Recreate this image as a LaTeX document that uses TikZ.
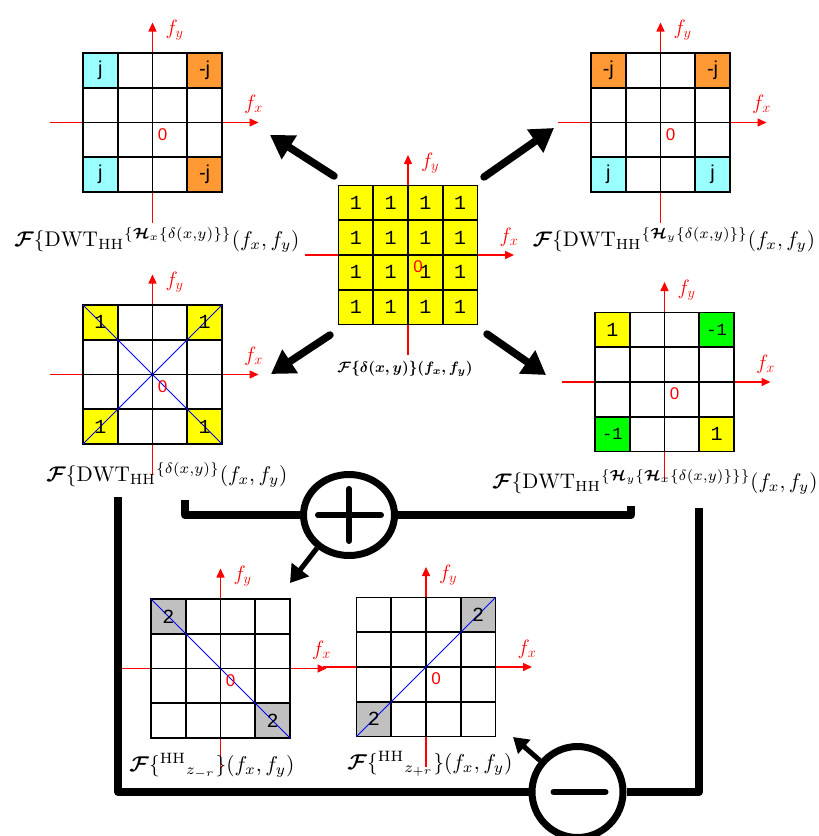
\documentclass[tikz,border=0pt]{standalone}
\usepackage{amsmath}
\usepackage{graphicx}
\usepackage{fontspec}
\usetikzlibrary{arrows.meta,calc,shapes.geometric}
\newfontfamily\sansf{Liberation Sans}
\newfontfamily\monof{Liberation Mono}
\definecolor{cyanc}{RGB}{153,255,255}
\definecolor{orangec}{RGB}{255,153,51}
\definecolor{yellowc}{RGB}{255,255,0}
\definecolor{greenc}{RGB}{0,255,0}
\definecolor{grayc}{RGB}{192,192,192}
\definecolor{axisred}{RGB}{255,0,0}
\newcommand\cs{34.75}
\newcommand\gridat[3]{%
  \draw[axisline] ({#2-103},#3) -- ({#2+106},#3);
  \draw[axisline] (#2,{#3+100}) -- (#2,{#3-100});
  \node[axlab] (#1-fx) at ({#2+101},{#3-18}) {$f_x$};
  \node[axlab] (#1-fy) at ({#2+22},{#3-92}) {$f_y$};
  \node[gridbox] (#1) at (#2,#3) {};
}
\newcommand\cellfill[4]{%
  \fill[#4] ($(#1.north west)+({(#3-1)*\cs},{(#2-1)*\cs})$) rectangle ++(\cs,\cs);}
\newcommand\gridlines[1]{%
  \foreach \k in {0,...,4}{%
    \draw[gridln] ($(#1.north west)+({\k*\cs},0)$) -- ++(0,139);
    \draw[gridln] ($(#1.north west)+(0,{\k*\cs})$) -- ++(139,0);
  }}
\newcommand\celltext[5]{%
  \node[#4] (#1-#2#3) at ($(#1.north west)+({(#3-0.5)*\cs},{(#2-0.5)*\cs})$) {#5};}
\newcommand\zerolab[1]{\node[zerotxt] (#1-zero) at ($(#1)+(10,12)$) {0};}
\newcommand\Fb{\boldsymbol{\mathcal F}}
\newcommand\Hb{\boldsymbol{\mathcal H}}
\tikzset{
  axisline/.style={draw=axisred, line width=1.5pt, -{Triangle[length=9pt,width=8pt]}},
  axlab/.style={text=axisred, font=\fontsize{21}{21}\selectfont, inner sep=0pt},
  gridbox/.style={fill=white, minimum size=139pt, inner sep=0pt, outer sep=0pt},
  gridln/.style={draw=black, line width=1.6pt, line cap=rect},
  blueln/.style={draw=blue, line width=1pt},
  numtxt/.style={font=\monof\fontsize{20}{20}\selectfont, inner sep=0pt},
  smalltxt/.style={font=\monof\fontsize{17}{17}\selectfont, inner sep=0pt},
  jtxt/.style={font=\sansf\fontsize{20}{20}\selectfont, inner sep=0pt},
  zerotxt/.style={text=axisred, font=\sansf\fontsize{17}{17}\selectfont, inner sep=0pt},
  lab/.style={inner sep=0pt},
  bigarrow/.style={line width=7.5pt, line cap=round, -{Triangle[length=23pt,width=27pt]}},
  flow/.style={line width=8pt, line join=round},
  sumring/.style={draw, line width=7pt, inner sep=0pt},
  signln/.style={line width=6pt, line cap=round},
  midarrow/.style={line width=5pt, -{Triangle[length=17pt,width=21pt]}},
}
\begin{document}
\begin{tikzpicture}[x=1pt,y=-1pt]
\clip (0,0) rectangle (819,836);
\fill[white] (0,0) rectangle (819,836);

% ---------- top-left grid
\gridat{tl}{152.5}{122.5}
\cellfill{tl}{1}{1}{cyanc}\cellfill{tl}{1}{4}{orangec}
\cellfill{tl}{4}{1}{cyanc}\cellfill{tl}{4}{4}{orangec}
\gridlines{tl}
\celltext{tl}{1}{1}{jtxt}{j}\celltext{tl}{1}{4}{jtxt}{-j}
\celltext{tl}{4}{1}{jtxt}{j}\celltext{tl}{4}{4}{jtxt}{-j}
\zerolab{tl}
\node[lab] (lab-tl) at (157,240) {\resizebox{285pt}{!}{$\Fb\{\mathrm{DWT}_{\mathrm{HH}}{}^{\{\Hb_x\{\delta(x,y)\}\}}(f_x,f_y)$}};

% ---------- top-right grid
\gridat{tr}{660.5}{122.5}
\cellfill{tr}{1}{1}{orangec}\cellfill{tr}{1}{4}{orangec}
\cellfill{tr}{4}{1}{cyanc}\cellfill{tr}{4}{4}{cyanc}
\gridlines{tr}
\celltext{tr}{1}{1}{jtxt}{-j}\celltext{tr}{1}{4}{jtxt}{-j}
\celltext{tr}{4}{1}{jtxt}{j}\celltext{tr}{4}{4}{jtxt}{j}
\zerolab{tr}
\node[lab] (lab-tr) at (674,240) {\resizebox{282pt}{!}{$\Fb\{\mathrm{DWT}_{\mathrm{HH}}{}^{\{\Hb_y\{\delta(x,y)\}\}}(f_x,f_y)$}};

% ---------- centre grid
\gridat{c}{408}{255}
\foreach \r in {1,...,4}{\foreach \q in {1,...,4}{\cellfill{c}{\r}{\q}{yellowc}}}
\gridlines{c}
\foreach \r in {1,...,4}{\foreach \q in {1,...,4}{\celltext{c}{\r}{\q}{numtxt}{1}}}
\zerolab{c}
\node[lab] (lab-c) at (405,369) {\resizebox{135pt}{!}{$\boldsymbol{\mathcal F\{\delta(x,y)\}(f_x,f_y)}$}};

% ---------- middle-left grid
\gridat{ml}{152.5}{374.5}
\cellfill{ml}{1}{1}{yellowc}\cellfill{ml}{1}{4}{yellowc}
\cellfill{ml}{4}{1}{yellowc}\cellfill{ml}{4}{4}{yellowc}
\gridlines{ml}
\draw[blueln] (ml.north west) -- (ml.south east);
\draw[blueln] (ml.north east) -- (ml.south west);
\celltext{ml}{1}{1}{numtxt}{1}\celltext{ml}{1}{4}{numtxt}{1}
\celltext{ml}{4}{1}{numtxt}{1}\celltext{ml}{4}{4}{numtxt}{1}
\zerolab{ml}
\node[lab] (lab-ml) at (167,475) {\resizebox{241pt}{!}{$\Fb\{\mathrm{DWT}_{\mathrm{HH}}{}^{\{\delta(x,y)\}}(f_x,f_y)$}};

% ---------- middle-right grid
\gridat{mr}{664.5}{382}
\cellfill{mr}{1}{1}{yellowc}\cellfill{mr}{1}{4}{greenc}
\cellfill{mr}{4}{1}{greenc}\cellfill{mr}{4}{4}{yellowc}
\gridlines{mr}
\celltext{mr}{1}{1}{numtxt}{1}\celltext{mr}{1}{4}{smalltxt}{-1}
\celltext{mr}{4}{1}{smalltxt}{-1}\celltext{mr}{4}{4}{numtxt}{1}
\zerolab{mr}
\node[lab] (lab-mr) at (655,482) {\resizebox{325pt}{!}{$\Fb\{\mathrm{DWT}_{\mathrm{HH}}{}^{\{\Hb_y\{\Hb_x\{\delta(x,y)\}\}\}}(f_x,f_y)$}};

% ---------- bottom-left grid
\gridat{bl}{220.5}{668.5}
\cellfill{bl}{1}{1}{grayc}\cellfill{bl}{4}{4}{grayc}
\gridlines{bl}
\draw[blueln] (bl.north west) -- (bl.south east);
\celltext{bl}{1}{1}{numtxt}{2}\celltext{bl}{4}{4}{numtxt}{2}
\zerolab{bl}
\node[lab] (lab-bl) at (212,766) {\resizebox{165pt}{!}{$\Fb\{{}^{\mathrm{HH}}{}_{z_{-r}}\}(f_x,f_y)$}};

% ---------- bottom-right grid
\gridat{br}{426}{667}
\cellfill{br}{1}{4}{grayc}\cellfill{br}{4}{1}{grayc}
\gridlines{br}
\draw[blueln] (br.south west) -- (br.north east);
\celltext{br}{1}{4}{numtxt}{2}\celltext{br}{4}{1}{numtxt}{2}
\zerolab{br}
\node[lab] (lab-br) at (430,764) {\resizebox{165pt}{!}{$\Fb\{{}^{\mathrm{HH}}{}_{z_{+r}}\}(f_x,f_y)$}};

% ---------- thick arrows from the centre grid
\coordinate (a-tl-s) at (334,176); \coordinate (a-tl-e) at (270,135);
\coordinate (a-tr-s) at (484,177); \coordinate (a-tr-e) at (554,128);
\coordinate (a-ml-s) at (330,335); \coordinate (a-ml-e) at (271,374);
\coordinate (a-mr-s) at (487,334); \coordinate (a-mr-e) at (546,375);
\draw[bigarrow] (a-tl-s) -- (a-tl-e);
\draw[bigarrow] (a-tr-s) -- (a-tr-e);
\draw[bigarrow] (a-ml-s) -- (a-ml-e);
\draw[bigarrow] (a-mr-s) -- (a-mr-e);

% ---------- adder
\node[sumring, ellipse, minimum width=91pt, minimum height=81pt] (plus) at (349,515) {};
\draw[signln] ($(plus)+(-31,0)$) -- ($(plus)+(32,0)$);
\draw[signln] ($(plus)+(0,-26)$) -- ($(plus)+(0,26)$);
\coordinate (lb) at (185,500);
\coordinate (rb) at (631,506);
\draw[flow] (lb) -- (lb |- plus) -- (plus.west);
\draw[flow] (plus.east) -- (rb |- plus) -- (rb);
\coordinate (pa) at (290,583);
\draw[midarrow] (plus.226) -- (pa);

% ---------- subtractor
\node[sumring, circle, minimum size=91pt] (minus) at (577.5,792) {};
\draw[signln] ($(minus)+(-24,0)$) -- ($(minus)+(28,0)$);
\coordinate (ll) at (118,497);
\coordinate (rl) at (699,508);
\draw[flow] (ll) -- (ll |- minus) -- (minus.west);
\draw[flow] (rl) -- (rl |- minus) -- (minus.east);
\coordinate (ma) at (513,737);
\draw[midarrow, line width=5pt, -{Triangle[length=15pt,width=18pt]}] (minus.140) -- (ma);
\end{tikzpicture}
\end{document}
